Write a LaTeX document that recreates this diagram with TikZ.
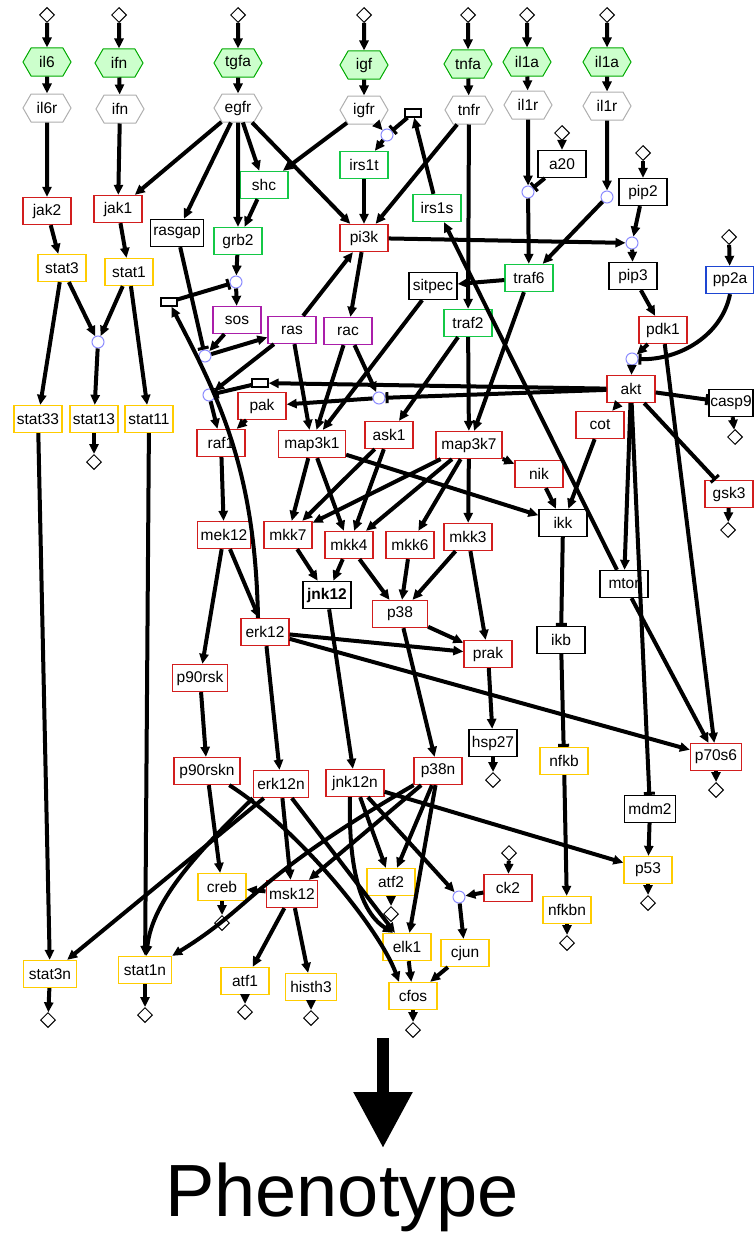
\documentclass[tikz,border=0pt]{standalone}
\usepackage{fontspec}
\setmainfont{Liberation Sans}
\usetikzlibrary{positioning, arrows.meta, shapes.geometric, shapes.symbols}
\definecolor{stimgreen}{RGB}{0,170,0}
\definecolor{stimfill}{RGB}{204,255,204}
\definecolor{recgray}{RGB}{175,175,175}
\definecolor{kinred}{RGB}{210,30,30}
\definecolor{adagreen}{RGB}{20,200,70}
\definecolor{tfyellow}{RGB}{255,204,0}
\definecolor{gtpviolet}{RGB}{170,30,170}
\definecolor{phosblue}{RGB}{30,70,210}
\definecolor{gateblue}{RGB}{140,140,255}

\begin{document}
\begin{tikzpicture}[
        x=1pt, y=-1pt,
        font=\fontsize{15.5}{17}\selectfont,
        prot/.style={draw, rectangle, fill=white, line width=1.3pt, minimum width=48pt, minimum height=27pt, inner xsep=3pt, inner ysep=0pt},
        kinase/.style={prot, draw=kinred},
        adaptor/.style={prot, draw=adagreen},
        tfactor/.style={prot, draw=tfyellow},
        gtpase/.style={prot, draw=gtpviolet},
        plain/.style={prot, draw=black},
        ligand/.style={shape=signal, signal to=east and west, signal pointer angle=120, draw=stimgreen, fill=stimfill, minimum width=48pt, minimum height=28pt, inner xsep=2pt, line width=1pt},
        receptor/.style={ligand, draw=recgray, fill=white},
        port/.style={draw, diamond, fill=white, line width=1pt, minimum width=15pt, minimum height=15pt, inner sep=0pt},
        gate/.style={draw=gateblue, circle, fill=white, minimum size=12pt, inner sep=0pt, line width=1pt},
        notbox/.style={draw, rectangle, fill=white, line width=1.3pt, minimum width=16pt, minimum height=8pt, inner sep=0pt},
        act/.style={-{Triangle[length=10pt,width=9pt]}, line width=4pt},
        inh/.style={-{Bar[width=11pt,line width=3pt]}, line width=4pt}
    ]
    \useasboundingbox (0,0) rectangle (754,1239);

    % inputs
    \node[port] (dil6) at (47,15) {};
    \node[port] (difn) at (119,15) {};
    \node[port] (dtgfa) at (238,15) {};
    \node[port] (digf) at (364,15) {};
    \node[port] (dtnfa) at (468,15) {};
    \node[port] (dila) at (527,15) {};
    \node[port] (dilb) at (607,15) {};

    \node[ligand] (il6) at (47,62) {il6};
    \node[ligand] (ifn) at (119,63) {ifn};
    \node[ligand] (tgfa) at (238,63) {tgfa};
    \node[ligand] (igf) at (364,65) {igf};
    \node[ligand] (tnfa) at (468,64) {tnfa};
    \node[ligand] (ila) at (527,62) {il1a};
    \node[ligand] (ilb) at (607,62) {il1a};

    \node[receptor] (il6r) at (47,108) {il6r};
    \node[receptor] (ifnr) at (120,109) {ifn};
    \node[receptor] (egfr) at (238,108) {egfr};
    \node[receptor] (igfr) at (364,110) {igfr};
    \node[receptor] (tnfr) at (469,110) {tnfr};
    \node[receptor] (ilra) at (528,105) {il1r};
    \node[receptor] (ilrb) at (607,106) {il1r};

    % logic gates and helper boxes
    \node[gate] (gIrs) at (387,135) {};
    \node[gate] (gTrafA) at (528,192) {};
    \node[gate] (gTrafB) at (607,197) {};
    \node[gate] (gPip) at (632,243) {};
    \node[gate] (gSos) at (236,282) {};
    \node[gate] (gStat) at (98,342) {};
    \node[gate] (gRas) at (205,356) {};
    \node[gate] (gAkt) at (632,359) {};
    \node[gate] (gRaf) at (209,395) {};
    \node[gate] (gPak) at (379,398) {};
    \node[gate] (gJun) at (459,897) {};
    \node[notbox] (mIrs) at (413,113) {};
    \node[notbox] (mErk) at (169,302) {};
    \node[notbox] (mAkt) at (260,383) {};

    % signalling
    \node[kinase] (jak2) at (47,211) {jak2};
    \node[kinase] (jak1) at (118,209) {jak1};
    \node[plain] (rasgap) at (177,233) {rasgap};
    \node[adaptor] (grb2) at (238,241) {grb2};
    \node[adaptor] (shc) at (264,185) {shc};
    \node[adaptor] (irs1t) at (364,165) {irs1t};
    \node[adaptor] (irs1s) at (437,208) {irs1s};
    \node[kinase] (pi3k) at (364,238) {pi3k};
    \node[port] (da20) at (562,133) {};
    \node[plain] (a20) at (562,164) {a20};
    \node[port] (dpip2) at (643,153) {};
    \node[plain] (pip2) at (643,192) {pip2};
    \node[plain] (pip3) at (633,276) {pip3};
    \node[port] (dpp2a) at (729,237) {};
    \node[prot, draw=phosblue] (pp2a) at (730,280) {pp2a};
    \node[adaptor] (traf6) at (529,278) {traf6};
    \node[plain] (sitpec) at (433,286) {sitpec};
    \node[adaptor] (traf2) at (468,323) {traf2};
    \node[tfactor] (stat3) at (62,268) {stat3};
    \node[tfactor] (stat1) at (129,272) {stat1};
    \node[gtpase] (sos) at (237,320) {sos};
    \node[gtpase] (ras) at (292,330) {ras};
    \node[gtpase] (rac) at (348,331) {rac};
    \node[kinase] (pdk1) at (663,330) {pdk1};
    \node[kinase] (akt) at (631,389) {akt};
    \node[plain, minimum width=44pt, inner xsep=1pt] (casp9) at (731,403) {casp9};
    \node[port] (dcasp9) at (735,437) {};
    \node[kinase] (pak) at (262,406) {pak};
    \node[kinase] (raf1) at (221,443) {raf1};
    \node[kinase, minimum width=67pt] (map3k1) at (312,444) {map3k1};
    \node[kinase] (ask1) at (389,435) {ask1};
    \node[kinase, minimum width=66pt] (map3k7) at (469,445) {map3k7};
    \node[tfactor] (stat33) at (38,419) {stat33};
    \node[tfactor] (stat13) at (94,419) {stat13};
    \node[tfactor] (stat11) at (149,419) {stat11};
    \node[port] (dstat13) at (94,462) {};
    \node[kinase] (cot) at (600,425) {cot};
    \node[kinase] (nik) at (539,474) {nik};
    \node[kinase] (gsk3) at (729,494) {gsk3};
    \node[port] (dgsk3) at (728,530) {};
    \node[plain] (ikk) at (563,523) {ikk};
    \node[kinase, minimum width=51pt] (mek12) at (224,535) {mek12};
    \node[kinase] (mkk7) at (288,535) {mkk7};
    \node[kinase] (mkk4) at (349,545) {mkk4};
    \node[kinase] (mkk6) at (410,545) {mkk6};
    \node[kinase] (mkk3) at (468,537) {mkk3};
    \node[plain, line width=1.6pt] (jnk12) at (327,595) {\textbf{jnk12}};
    \node[kinase, minimum width=55pt] (p38) at (400,614) {p38};
    \node[kinase] (erk12) at (265,632) {erk12};
    \node[plain] (mtor) at (624,584) {mtor};
    \node[plain] (ikb) at (561,640) {ikb};
    \node[kinase] (prak) at (488,654) {prak};
    \node[kinase, minimum width=55pt] (p90rsk) at (200,678) {p90rsk};
    \node[plain] (hsp27) at (493,743) {hsp27};
    \node[port] (dhsp27) at (493,780) {};
    \node[kinase, minimum width=51pt] (p70s6) at (716,757) {p70s6};
    \node[port] (dp70s6) at (716,790) {};
    \node[tfactor] (nfkb) at (564,761) {nfkb};

    % nuclear level
    \node[kinase, minimum width=66pt] (p90rskn) at (207,771) {p90rskn};
    \node[kinase, minimum width=55pt] (erk12n) at (281,784) {erk12n};
    \node[kinase, minimum width=58pt] (jnk12n) at (355,783) {jnk12n};
    \node[kinase] (p38n) at (438,771) {p38n};
    \node[plain, minimum width=51pt] (mdm2) at (650,809) {mdm2};
    \node[port] (dck2) at (509,853) {};
    \node[kinase] (ck2) at (508,888) {ck2};
    \node[tfactor] (p53) at (648,870) {p53};
    \node[port] (dp53) at (648,903) {};
    \node[tfactor] (creb) at (222,887) {creb};
    \node[port] (dcreb) at (222,923) {};
    \node[kinase, minimum width=51pt] (msk12) at (292,894) {msk12};
    \node[tfactor] (atf2) at (391,882) {atf2};
    \node[port] (datf2) at (391,914) {};
    \node[tfactor] (nfkbn) at (567,910) {nfkbn};
    \node[port] (dnfkbn) at (567,943) {};
    \node[tfactor] (elk1) at (407,947) {elk1};
    \node[tfactor] (cjun) at (465,953) {cjun};
    \node[tfactor, minimum width=53pt] (stat3n) at (50,974) {stat3n};
    \node[port] (dstat3n) at (48,1020) {};
    \node[tfactor, minimum width=53pt] (stat1n) at (145,970) {stat1n};
    \node[port] (dstat1n) at (145,1015) {};
    \node[tfactor] (atf1) at (245,981) {atf1};
    \node[port] (datf1) at (245,1012) {};
    \node[tfactor, minimum width=51pt] (histh3) at (311,987) {histh3};
    \node[port] (dhisth3) at (311,1018) {};
    \node[tfactor] (cfos) at (413,996) {cfos};
    \node[port] (dcfos) at (413,1030) {};

    \node[font=\fontsize{74}{80}\selectfont, anchor=base] (pheno) at (342,1216) {Phenotype};
    \coordinate (bigtop) at (383,1038);
    \coordinate (bigtip) at (383,1148);

    % receptor level
    \draw[act] (dil6) -- (il6);
    \draw[act] (il6) -- (il6r);
    \draw[act] (il6r) -- (jak2);
    \draw[act] (difn) -- (ifn);
    \draw[act] (ifn) -- (ifnr);
    \draw[act] (ifnr) -- (jak1);
    \draw[act] (dtgfa) -- (tgfa);
    \draw[act] (tgfa) -- (egfr);
    \draw[act] (egfr) -- (jak1);
    \draw[act] (egfr) -- (rasgap);
    \draw[act] (egfr) -- (grb2);
    \draw[act] (egfr) -- (shc);
    \draw[act] (egfr) -- (pi3k);
    \draw[act] (digf) -- (igf);
    \draw[act] (igf) -- (igfr);
    \draw[act] (igfr) -- (shc);
    \draw[act] (igfr) -- (gIrs);
    \draw[inh] (mIrs) -- (gIrs);
    \draw[act] (gIrs) -- (irs1t);
    \draw[act] (irs1t) -- (pi3k);
    \draw[act] (irs1s) -- (mIrs);
    \draw[act] (dtnfa) -- (tnfa);
    \draw[act] (tnfa) -- (tnfr);
    \draw[act] (tnfr) -- (pi3k);
    \draw[act] (tnfr) -- (traf2);
    \draw[act] (dila) -- (ila);
    \draw[act] (ila) -- (ilra);
    \draw[act] (ilra) -- (gTrafA);
    \draw[act] (da20) -- (a20);
    \draw[inh] (a20) -- (gTrafA);
    \draw[act] (gTrafA) -- (traf6);
    \draw[act] (dilb) -- (ilb);
    \draw[act] (ilb) -- (ilrb);
    \draw[act] (ilrb) -- (gTrafB);
    \draw[act] (gTrafB) -- (traf6);

    % cytoplasm
    \draw[act] (dpip2) -- (pip2);
    \draw[act] (pip2) -- (gPip);
    \draw[act] (pi3k) -- (gPip);
    \draw[act] (gPip) -- (pip3);
    \draw[act] (pip3) -- (pdk1);
    \draw[act] (pdk1) -- (gAkt);
    \draw[act] (dpp2a) -- (pp2a);
    \draw[inh] (pp2a.south) .. controls (722,335) and (680,360) .. (gAkt);
    \draw[act] (gAkt) -- (akt);
    \draw[act] (shc) -- (grb2);
    \draw[act] (grb2) -- (gSos);
    \draw[inh] (mErk) -- (gSos);
    \draw[act] (gSos) -- (sos);
    \draw[inh] (rasgap) -- (gRas);
    \draw[act] (sos) -- (gRas);
    \draw[act] (gRas) -- (ras);
    \draw[act] (ras) -- (pi3k);
    \draw[act] (pi3k) -- (rac);
    \draw[act] (ras) -- (gRaf);
    \draw[inh] (mAkt) -- (gRaf);
    \draw[act] (gRaf) -- (raf1);
    \draw[act] (akt) -- (mAkt);
    \draw[act] (rac) -- (gPak);
    \draw[inh] (akt) -- (gPak);
    \draw[act] (gPak) -- (pak);
    \draw[act] (pak) -- (raf1);
    \draw[act] (ras) -- (map3k1);
    \draw[act] (rac) -- (map3k1);
    \draw[act] (sitpec) -- (map3k1);
    \draw[act] (traf6) -- (sitpec);
    \draw[act] (traf6) -- (map3k7);
    \draw[act] (traf2) -- (map3k7);
    \draw[act] (traf2) -- (ask1);
    \draw[act] (jak2) -- (stat3);
    \draw[act] (jak1) -- (stat1);
    \draw[act] (stat3) -- (stat33);
    \draw[act] (stat3) -- (gStat);
    \draw[act] (stat1) -- (gStat);
    \draw[act] (gStat) -- (stat13);
    \draw[act] (stat1) -- (stat11);
    \draw[act] (stat13) -- (dstat13);
    \draw[inh] (akt) -- (casp9);
    \draw[act] (casp9) -- (dcasp9);
    \draw[act] (akt) -- (cot);
    \draw[inh] (akt) -- (gsk3);
    \draw[act] (gsk3) -- (dgsk3);
    \draw[act] (akt) -- (mtor);
    \draw[inh] (akt) -- (mdm2);
    \draw[act] (pdk1) -- (p70s6);
    \draw[act] (mtor) -- (p70s6);
    \draw[act] (mtor) -- (irs1s);
    \draw[act] (p70s6) -- (dp70s6);
    \draw[act] (raf1) -- (mek12);
    \draw[act] (mek12) -- (p90rsk);
    \draw[act] (mek12) -- (erk12);
    \draw[act] ([xshift=-7pt]erk12.north) .. controls (255,470) and (220,400) .. (mErk);
    \draw[act] (map3k1) -- (mkk7);
    \draw[act] (map3k1) -- (mkk4);
    \draw[act] (map3k1) -- (ikk);
    \draw[act] (ask1) -- (mkk7);
    \draw[act] (ask1) -- (mkk4);
    \draw[act] (map3k7) -- (mkk7);
    \draw[act] (map3k7) -- (mkk4);
    \draw[act] (map3k7) -- (mkk6);
    \draw[act] (map3k7) -- (mkk3);
    \draw[act] (map3k7) -- (nik);
    \draw[act] (nik) -- (ikk);
    \draw[act] (cot) -- (ikk);
    \draw[inh] (ikk) -- (ikb);
    \draw[inh] (ikb) -- (nfkb);
    \draw[act] (nfkb) -- (nfkbn);
    \draw[act] (nfkbn) -- (dnfkbn);
    \draw[act] (mkk7) -- (jnk12);
    \draw[act] (mkk4) -- (jnk12);
    \draw[act] (mkk4) -- (p38);
    \draw[act] (mkk6) -- (p38);
    \draw[act] (mkk3) -- (p38);
    \draw[act] (mkk3) -- (prak);
    \draw[act] (p38) -- (prak);
    \draw[act] (erk12) -- (prak);
    \draw[act] (erk12) -- (p70s6);
    \draw[act] (prak) -- (hsp27);
    \draw[act] (hsp27) -- (dhsp27);

    % nucleus
    \draw[act] (p90rsk) -- (p90rskn);
    \draw[act] (erk12) -- (erk12n);
    \draw[act] (jnk12) -- (jnk12n);
    \draw[act] (p38) -- (p38n);
    \draw[act] (stat33) -- (stat3n);
    \draw[act] (stat11) -- (stat1n);
    \draw[act] (p90rskn) -- (creb);
    \draw[act] (p90rskn) .. controls (300,830) and (380,930) .. ([xshift=-14pt]cfos.north);
    \draw[act] (erk12n) -- (msk12);
    \draw[act] (erk12n) -- ([xshift=-12pt]elk1.north);
    \draw[act] (erk12n) -- (stat3n);
    \draw[act] (erk12n.south west) .. controls (200,850) and (152,900) .. (stat1n);
    \draw[act] (jnk12n) -- (atf2);
    \draw[act] ([xshift=-5pt]jnk12n.south) .. controls (348,880) and (365,915) .. ([xshift=-14pt]elk1.north);
    \draw[act] (jnk12n) -- (gJun);
    \draw[act] (jnk12n) -- (p53);
    \draw[act] (p38n) -- (msk12);
    \draw[act] (p38n) .. controls (250,880) and (255,905) .. (stat1n.north east);
    \draw[act] (p38n) -- (atf2);
    \draw[act] (p38n) -- (elk1);
    \draw[act] (dck2) -- (ck2);
    \draw[act] (ck2) -- (gJun);
    \draw[act] (gJun) -- (cjun);
    \draw[act] (mdm2) -- (p53);
    \draw[act] (p53) -- (dp53);
    \draw[act] (msk12) -- (creb);
    \draw[act] (msk12) -- (atf1);
    \draw[act] (msk12) -- (histh3);
    \draw[act] (creb) -- (dcreb);
    \draw[act] (atf2) -- (datf2);
    \draw[act] (atf1) -- (datf1);
    \draw[act] (histh3) -- (dhisth3);
    \draw[act] (elk1) -- (cfos);
    \draw[act] (cjun) -- (cfos);
    \draw[act] (cfos) -- (dcfos);
    \draw[act] (stat3n) -- (dstat3n);
    \draw[act] (stat1n) -- (dstat1n);

    \draw[line width=12pt, -{Triangle[length=56pt,width=56pt]}] (bigtop) -- (bigtip);
\end{tikzpicture}
\end{document}
